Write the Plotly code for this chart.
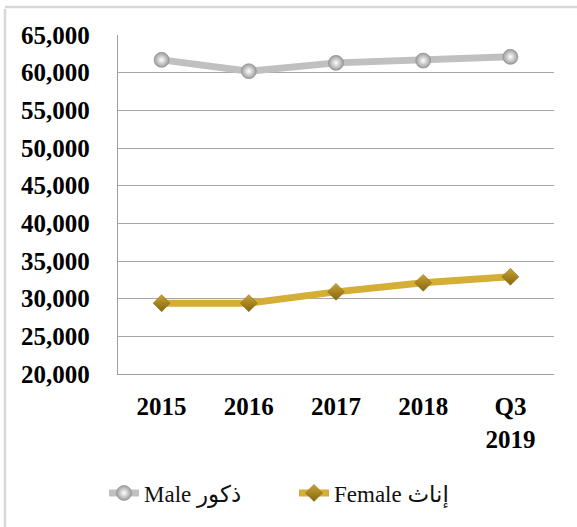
import plotly.graph_objects as go

# ---- data ----
categories = ["2015", "2016", "2017", "2018", "Q3<br>2019"]
male_values = [61700, 60200, 61300, 61600, 62100]
female_values = [29400, 29400, 30900, 32100, 32900]
male_name = "Male ذكور"
female_name = "Female إناث"
y_ticks = [20000, 25000, 30000, 35000, 40000, 45000, 50000, 55000, 60000, 65000]

W, H = 577, 527
L, R, T, B = 118, 23, 35, 153
pw, ph = W - L - R, H - T - B

def px_x(x):
    return (x - L) / pw

def px_y(y):
    return (H - B - y) / ph

fig = go.Figure()
fig.add_trace(go.Scatter(
    x=categories, y=male_values, name=male_name, mode="lines+markers",
    line=dict(color="#c0c0c0", width=7),
    marker=dict(symbol="circle", size=15, color="#9c9c9c",
                gradient=dict(type="radial", color="#ffffff"),
                line=dict(color="#8a8a8a", width=0.6)),
))
fig.add_trace(go.Scatter(
    x=categories, y=female_values, name=female_name, mode="lines+markers",
    line=dict(color="#d5ae36", width=7),
    marker=dict(symbol="diamond", size=13, color="#c9a232",
                gradient=dict(type="vertical", color="#86670f"),
                line=dict(color="#8a6d18", width=0.6)),
))

serif = "Liberation Serif, Times New Roman, DejaVu Serif, DejaVu Sans, serif"

fig.update_layout(
    width=W, height=H,
    margin=dict(l=L, r=R, t=T, b=B, pad=0, autoexpand=False),
    paper_bgcolor="white", plot_bgcolor="rgba(0,0,0,0)",
    font=dict(family=serif, color="black"),
    showlegend=True,
    legend=dict(orientation="h", x=px_x(104), xanchor="left",
                y=px_y(493), yanchor="middle",
                font=dict(family=serif, size=23, color="#111111"),
                bgcolor="rgba(0,0,0,0)", itemwidth=30, tracegroupgap=0,
                entrywidth=145, entrywidthmode="pixels"),
    xaxis=dict(type="category", showline=True, linecolor="#9e9e9e", linewidth=1.3,
               showgrid=False, ticks="", ticklabelstandoff=10,
               tickfont=dict(family=serif, size=25, color="black", weight="bold"),
               range=[-0.5, 4.5], fixedrange=True, automargin=False),
    yaxis=dict(range=[20000, 65000], tickvals=y_ticks, tickformat=",",
               showline=True, linecolor="#9e9e9e", linewidth=1.3,
               showgrid=True, gridcolor="#a6a6a6", gridwidth=1.1,
               zeroline=False, ticks="", ticklabelstandoff=22,
               tickfont=dict(family=serif, size=25, color="black", weight="bold"),
               fixedrange=True, automargin=False),
    shapes=[
        dict(type="line", xref="paper", yref="paper",
             x0=px_x(5), x1=px_x(5), y0=px_y(9), y1=px_y(530),
             line=dict(color="#d8d8d8", width=2.5), layer="below"),
        dict(type="line", xref="paper", yref="paper",
             x0=px_x(5), x1=px_x(580), y0=px_y(7), y1=px_y(7),
             line=dict(color="#d8d8d8", width=2.5), layer="below"),
    ],
)

fig.write_html("out.html", config={"displayModeBar": False},
               post_script="document.body.style.margin='0';document.body.style.overflow='hidden';")
